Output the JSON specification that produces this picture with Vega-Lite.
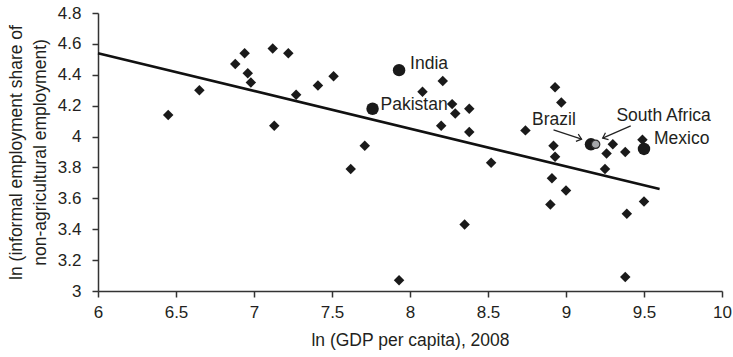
{
  "$schema": "https://vega.github.io/schema/vega-lite/v6.json",
  "width": 624,
  "height": 278,
  "autosize": {"type": "none"},
  "padding": {"left": 98, "top": 13, "right": 11, "bottom": 66},
  "background": "white",
  "config": {
    "view": {"stroke": null},
    "font": "Liberation Sans",
    "axis": {
      "grid": false,
      "domainColor": "#333",
      "domainWidth": 1.5,
      "tickColor": "#333",
      "tickWidth": 1.5,
      "tickSize": 6,
      "labelFont": "Liberation Sans",
      "labelFontSize": 17,
      "labelColor": "#231f20",
      "titleFont": "Liberation Sans",
      "titleFontSize": 17.5,
      "titleFontWeight": "normal",
      "titleColor": "#231f20"
    }
  },
  "datasets": {
    "others": [
      {"gdp": 6.45, "inf": 4.14}, {"gdp": 6.65, "inf": 4.30}, {"gdp": 6.88, "inf": 4.47},
      {"gdp": 6.94, "inf": 4.54}, {"gdp": 7.12, "inf": 4.57}, {"gdp": 7.22, "inf": 4.54},
      {"gdp": 6.96, "inf": 4.41}, {"gdp": 6.98, "inf": 4.35}, {"gdp": 7.27, "inf": 4.27},
      {"gdp": 7.41, "inf": 4.33}, {"gdp": 7.51, "inf": 4.39}, {"gdp": 7.13, "inf": 4.07},
      {"gdp": 7.71, "inf": 3.94}, {"gdp": 7.62, "inf": 3.79}, {"gdp": 8.21, "inf": 4.36},
      {"gdp": 8.08, "inf": 4.29}, {"gdp": 8.27, "inf": 4.21}, {"gdp": 8.29, "inf": 4.15},
      {"gdp": 8.38, "inf": 4.18}, {"gdp": 8.20, "inf": 4.07}, {"gdp": 8.38, "inf": 4.03},
      {"gdp": 8.52, "inf": 3.83}, {"gdp": 8.35, "inf": 3.43}, {"gdp": 7.93, "inf": 3.07},
      {"gdp": 8.93, "inf": 4.32}, {"gdp": 8.97, "inf": 4.22}, {"gdp": 8.74, "inf": 4.04},
      {"gdp": 8.92, "inf": 3.94}, {"gdp": 8.93, "inf": 3.87}, {"gdp": 9.30, "inf": 3.95},
      {"gdp": 9.26, "inf": 3.89}, {"gdp": 9.38, "inf": 3.90}, {"gdp": 9.49, "inf": 3.98},
      {"gdp": 9.25, "inf": 3.79}, {"gdp": 8.91, "inf": 3.73}, {"gdp": 9.00, "inf": 3.65},
      {"gdp": 8.90, "inf": 3.56}, {"gdp": 9.39, "inf": 3.50}, {"gdp": 9.50, "inf": 3.58},
      {"gdp": 9.38, "inf": 3.09}
    ],
    "countries": [
      {"country": "India", "gdp": 7.93, "inf": 4.43},
      {"country": "Pakistan", "gdp": 7.76, "inf": 4.18},
      {"country": "Brazil", "gdp": 9.16, "inf": 3.95},
      {"country": "South Africa", "gdp": 9.19, "inf": 3.95},
      {"country": "Mexico", "gdp": 9.50, "inf": 3.92}
    ],
    "fit": [
      {"gdp": 6.0, "inf": 4.54},
      {"gdp": 9.6, "inf": 3.66}
    ],
    "arrows": [
      {"country": "Brazil", "gdp": 8.92, "inf": 4.043, "gdp2": 9.10, "inf2": 3.983},
      {"country": "South Africa", "gdp": 9.415, "inf": 4.069, "gdp2": 9.235, "inf2": 3.990}
    ]
  },
  "encoding": {
    "x": {
      "field": "gdp", "type": "quantitative",
      "scale": {"domain": [6, 10], "nice": false, "zero": false},
      "axis": {
        "title": "ln (GDP per capita), 2008",
        "values": [6, 6.5, 7, 7.5, 8, 8.5, 9, 9.5, 10],
        "format": "~g",
        "labelPadding": 7,
        "titlePadding": 11,
        "labelFlush": false
      }
    },
    "y": {
      "field": "inf", "type": "quantitative",
      "scale": {"domain": [3, 4.8], "nice": false, "zero": false},
      "axis": {
        "title": ["ln (informal employment share of", "non-agricultural employment)"],
        "values": [3, 3.2, 3.4, 3.6, 3.8, 4, 4.2, 4.4, 4.6, 4.8],
        "format": "~g",
        "labelPadding": 11,
        "titlePadding": 8,
        "titleLineHeight": 24,
        "labelFlush": false
      }
    }
  },
  "layer": [
    {
      "data": {"name": "fit"},
      "mark": {"type": "line", "color": "#111", "strokeWidth": 2.6}
    },
    {
      "data": {"name": "others"},
      "mark": {"type": "point", "shape": "diamond", "filled": true, "size": 110, "color": "#1a1a1a", "opacity": 1}
    },
    {
      "data": {"name": "countries"},
      "transform": [{"filter": "datum.country !== 'South Africa'"}],
      "mark": {"type": "point", "shape": "circle", "filled": true, "opacity": 1, "size": 155, "color": "#1a1a1a"}
    },
    {
      "data": {"name": "countries"},
      "transform": [{"filter": "datum.country === 'South Africa'"}],
      "mark": {"type": "point", "shape": "circle", "filled": true, "opacity": 1, "size": 70, "fill": "#a6a8ab", "stroke": "#2a2a2a", "strokeWidth": 1.2}
    },
    {
      "data": {"name": "arrows"},
      "mark": {"type": "rule", "color": "#222", "strokeWidth": 1.2},
      "encoding": {
        "x2": {"field": "gdp2"},
        "y2": {"field": "inf2"}
      }
    },
    {
      "data": {"name": "arrows"},
      "transform": [{"filter": "datum.country === 'Brazil'"}],
      "mark": {"type": "point", "shape": "M-1,-0.8L0,0L-1,0.8", "filled": false, "color": "#222", "strokeWidth": 1.2, "size": 90, "angle": 18, "opacity": 1},
      "encoding": {
        "x": {"field": "gdp2", "type": "quantitative"},
        "y": {"field": "inf2", "type": "quantitative"}
      }
    },
    {
      "data": {"name": "arrows"},
      "transform": [{"filter": "datum.country === 'South Africa'"}],
      "mark": {"type": "point", "shape": "M-1,-0.8L0,0L-1,0.8", "filled": false, "color": "#222", "strokeWidth": 1.2, "size": 90, "angle": 156, "opacity": 1},
      "encoding": {
        "x": {"field": "gdp2", "type": "quantitative"},
        "y": {"field": "inf2", "type": "quantitative"}
      }
    },
    {
      "data": {"name": "countries"},
      "transform": [{"filter": "datum.country === 'India'"}],
      "mark": {"type": "text", "align": "left", "baseline": "middle", "dx": 11, "dy": -6, "fontSize": 17.5, "color": "#231f20"},
      "encoding": {"text": {"field": "country"}}
    },
    {
      "data": {"name": "countries"},
      "transform": [{"filter": "datum.country === 'Pakistan'"}],
      "mark": {"type": "text", "align": "left", "baseline": "middle", "dx": 8, "dy": -3.5, "fontSize": 17.5, "color": "#231f20"},
      "encoding": {"text": {"field": "country"}}
    },
    {
      "data": {"name": "countries"},
      "transform": [{"filter": "datum.country === 'Mexico'"}],
      "mark": {"type": "text", "align": "left", "baseline": "middle", "dx": 10, "dy": -9.5, "fontSize": 17.5, "color": "#231f20"},
      "encoding": {"text": {"field": "country"}}
    },
    {
      "data": {"name": "countries"},
      "transform": [{"filter": "datum.country === 'Brazil'"}],
      "mark": {"type": "text", "align": "center", "baseline": "middle", "dx": -37, "dy": -24, "fontSize": 17.5, "color": "#231f20"},
      "encoding": {"text": {"field": "country"}}
    },
    {
      "data": {"name": "countries"},
      "transform": [{"filter": "datum.country === 'South Africa'"}],
      "mark": {"type": "text", "align": "center", "baseline": "middle", "dx": 68, "dy": -28, "fontSize": 17.5, "color": "#231f20"},
      "encoding": {"text": {"field": "country"}}
    }
  ]
}
